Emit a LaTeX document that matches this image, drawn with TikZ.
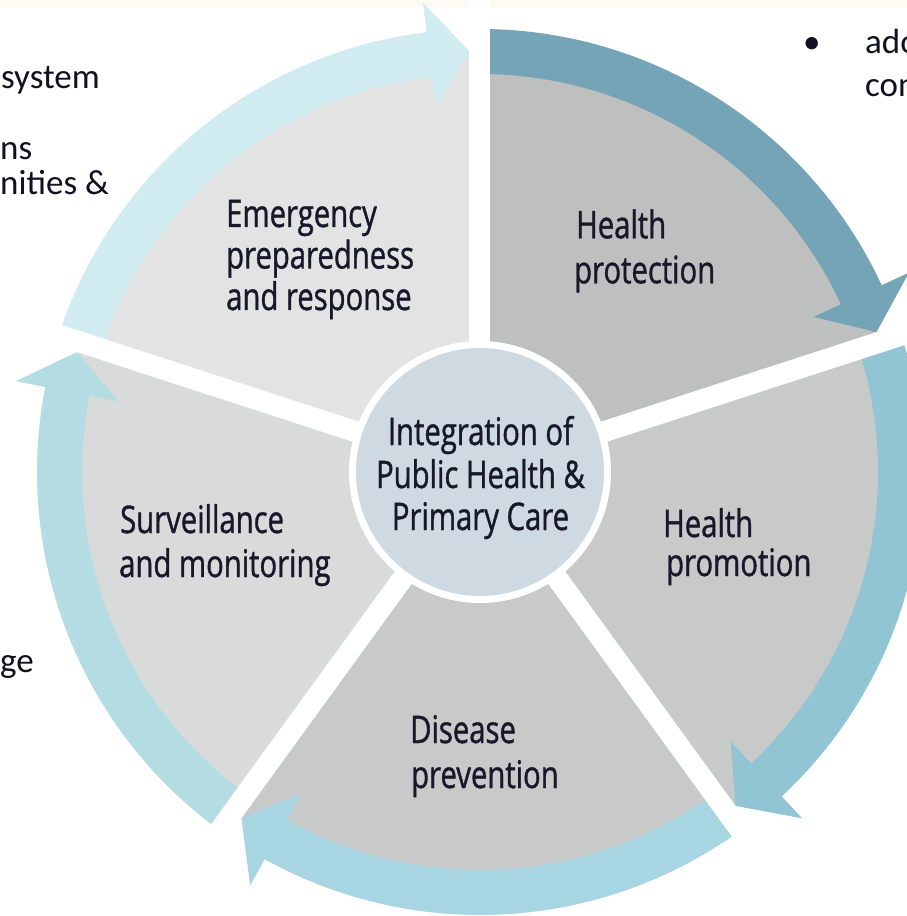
\documentclass[tikz,border=0pt]{standalone}
\usepackage{fontspec}
\newfontfamily\labelfont[FakeStretch=0.77,FakeBold=1]{Open Sans}
\newfontfamily\slidefont{Carlito}

\definecolor{ink}{HTML}{17192A}
\definecolor{slideink}{HTML}{101020}
\definecolor{hubfill}{HTML}{CED9E1}
\definecolor{topstrip}{HTML}{FCFAF3}
% sector greys
\definecolor{secEmerg}{HTML}{E3E3E3}
\definecolor{secProt}{HTML}{BEBFBF}
\definecolor{secProm}{HTML}{C8C9C9}
\definecolor{secDis}{HTML}{C8C9C9}
\definecolor{secSurv}{HTML}{D9DADA}
% arrow bands
\definecolor{arrEmerg}{HTML}{D0ECF0}
\definecolor{arrProt}{HTML}{74A4B6}
\definecolor{arrProm}{HTML}{91C5D4}
\definecolor{arrDis}{HTML}{A7D6E2}
\definecolor{arrSurv}{HTML}{B4DCE3}

% grey wedge from the hub out to the middle of the arrow band
\newcommand\sectorfill[3]{%
  \fill[#1] (0,0) -- (#2:420.5) arc[start angle=#2, end angle=#3, radius=420.5] -- cycle;}
% curved block arrow running clockwise from tail angle #2 to tip angle #3
\newcommand\cyclearrow[3]{%
  \pgfmathsetmacro\arrowback{#3+5.5}%
  \fill[#1] (#2:398) -- (#2:443)
    arc[start angle=#2, end angle=\arrowback, radius=443]
    -- (\arrowback:473) -- (#3:420.5) -- (\arrowback:368) -- (\arrowback:398)
    arc[start angle=\arrowback, end angle=#2, radius=398] -- cycle;}

\begin{document}
\begin{tikzpicture}[x=1pt,y=1pt,
  seglabel/.style={font=\labelfont\fontsize{38}{44}\selectfont, text=ink, inner sep=0pt, anchor=base west},
  hubtext/.style={font=\labelfont\fontsize{38}{44}\selectfont, text=ink, inner sep=0pt, anchor=base},
  slide/.style={font=\slidefont\fontsize{35}{42}\selectfont, text=slideink, inner sep=0pt, anchor=base west},
  gapline/.style={draw=white, line width=21pt}]

\useasboundingbox (-480,-444) rectangle (427,472);
\clip (-480,-444) rectangle (427,472);
\fill[white] (-480,-444) rectangle (427,472);
\fill[topstrip] (-480,465) rectangle (427,472);

% five wedges
\sectorfill{secEmerg}{162}{90}
\sectorfill{secProt}{90}{18}
\sectorfill{secProm}{18}{-54}
\sectorfill{secDis}{-54}{-126}
\sectorfill{secSurv}{234}{162}

% arrows round the rim
\cyclearrow{arrEmerg}{162}{91.43}
\cyclearrow{arrProt}{90}{19.43}
\cyclearrow{arrProm}{18}{-52.57}
\cyclearrow{arrDis}{-54}{-124.57}
\cyclearrow{arrSurv}{234}{163.43}

% white separators between the wedges
\foreach \g in {90,18,-54,-126,162}
  \draw[gapline] (0,0) -- (\g:520);

% hub
\node[circle, fill=hubfill, draw=white, line width=7pt, minimum size=255pt, inner sep=0pt] (hub) at (0,0) {};
\node[hubtext] (hub1) at (0.5,27) {Integration of};
\node[hubtext] (hub2) at (0.5,-16) {Public Health \&};
\node[hubtext] (hub3) at (0.5,-58) {Primary Care};

% wedge labels
\node[seglabel] (em1) at (-254,245) {Emergency};
\node[seglabel] (em2) at (-254,203.5) {preparedness};
\node[seglabel] (em3) at (-254,162) {and response};

\node[seglabel] (hp1) at (96,233.7) {Health};
\node[seglabel] (hp2) at (94,188.7) {protection};

\node[seglabel] (pr1) at (183,-65) {Health};
\node[seglabel] (pr2) at (186,-104) {promotion};

\node[seglabel] (dp1) at (-70,-271) {Disease};
\node[seglabel] (dp2) at (-69,-316) {prevention};

\node[seglabel] (sv1) at (-360,-61) {Surveillance};
\node[seglabel] (sv2) at (-361,-105) {and monitoring};

% slide text running off the edges
\node[slide] (s1) at (-479,383) {system};
\node[slide] (s2) at (-480,312) {ns};
\node[slide] (s3) at (-480,277) {nities \&};
\node[slide] (s4) at (-480,-200) {ge};
\node[slide] (s5) at (323,418) {•};
\node[slide] (s6) at (385,418) {ado};
\node[slide] (s7) at (385,375) {con};
\end{tikzpicture}
\end{document}
